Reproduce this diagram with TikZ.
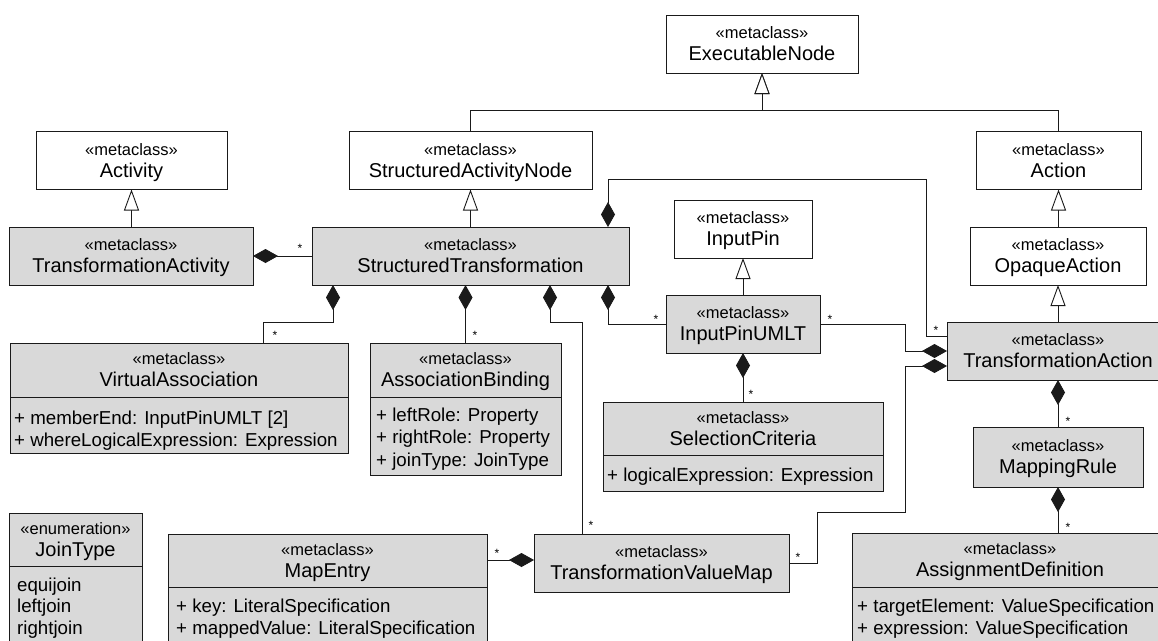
\documentclass[tikz,border=0pt]{standalone}
\usepackage{fontspec}
\setmainfont{Liberation Sans}
\usetikzlibrary{arrows.meta,calc}

\definecolor{clsgray}{HTML}{D9D9D9}
\definecolor{ink}{HTML}{1A1A1A}

\tikzset{
  wbox/.style={draw=ink, line width=0.9pt, fill=white, inner sep=0pt, outer sep=0pt},
  gbox/.style={draw=ink, line width=0.9pt, fill=clsgray, inner sep=0pt, outer sep=0pt},
  stereo/.style={font=\fontsize{16.5}{18}\selectfont, anchor=base, inner sep=0pt},
  cname/.style={font=\fontsize{20}{22}\selectfont, anchor=base, inner sep=0pt},
  attr/.style={font=\fontsize{18.7}{21}\selectfont, anchor=base west, inner sep=0pt},
  mult/.style={font=\fontsize{12}{12}\selectfont, inner sep=0pt},
  sep/.style={draw=ink, line width=0.9pt},
  gen/.style={draw=ink, line width=0.9pt, -{Triangle[length=21pt, width=15pt, fill=white]}},
  comp/.style={draw=ink, line width=0.9pt, -{Diamond[length=25pt, width=14pt]}},
}

\begin{document}
\begin{tikzpicture}[x=1pt, y=-1pt]
\useasboundingbox (0,0) rectangle (1158,640);
\clip (0,0) rectangle (1158,640);

% ---------- plain UML metaclasses ----------
\node[wbox, minimum width=192pt, minimum height=58pt] (exec) at (762,44) {};
\node[stereo] (exec-s) at (762,38.5) {«metaclass»};
\node[cname] (exec-n) at (762,60.5) {ExecutableNode};

\node[wbox, minimum width=191pt, minimum height=58pt] (act) at (131.5,160.5) {};
\node[stereo] (act-s) at (131.5,155) {«metaclass»};
\node[cname] (act-n) at (131.5,177) {Activity};

\node[wbox, minimum width=243pt, minimum height=58pt] (san) at (470.5,160.5) {};
\node[stereo] (san-s) at (470.5,155) {«metaclass»};
\node[cname] (san-n) at (470.5,177) {StructuredActivityNode};

\node[wbox, minimum width=165pt, minimum height=58pt] (action) at (1058.5,160.5) {};
\node[stereo] (action-s) at (1058.5,155) {«metaclass»};
\node[cname] (action-n) at (1058.5,177) {Action};

\node[wbox, minimum width=176pt, minimum height=58pt] (opaque) at (1058,256) {};
\node[stereo] (opaque-s) at (1058,250.5) {«metaclass»};
\node[cname] (opaque-n) at (1058,272.5) {OpaqueAction};

\node[wbox, minimum width=138pt, minimum height=58pt] (inpin) at (743,229) {};
\node[stereo] (inpin-s) at (743,223.5) {«metaclass»};
\node[cname] (inpin-n) at (743,245.5) {InputPin};

% ---------- profile metaclasses ----------
\node[gbox, minimum width=244pt, minimum height=58pt] (tact) at (131,256) {};
\node[stereo] (tact-s) at (131,250.5) {«metaclass»};
\node[cname] (tact-n) at (131,272.5) {TransformationActivity};

\node[gbox, minimum width=317pt, minimum height=58pt] (st) at (470.5,256) {};
\node[stereo] (st-s) at (470.5,250.5) {«metaclass»};
\node[cname] (st-n) at (470.5,272.5) {StructuredTransformation};

\node[gbox, minimum width=154pt, minimum height=58pt] (ipu) at (743,324) {};
\node[stereo] (ipu-s) at (743,318.5) {«metaclass»};
\node[cname] (ipu-n) at (743,340.5) {InputPinUMLT};

\node[gbox, minimum width=222pt, minimum height=58pt] (tra) at (1058,351) {};
\node[stereo] (tra-s) at (1058,345.5) {«metaclass»};
\node[cname] (tra-n) at (1058,367.5) {TransformationAction};

\node[gbox, minimum width=338pt, minimum height=110pt] (va) at (179,398) {};
\draw[sep] (10,397) -- (348,397);
\node[stereo] (va-s) at (179,364.5) {«metaclass»};
\node[cname] (va-n) at (179,386.5) {VirtualAssociation};
\node[attr] (va-a1) at (14,424) {+ memberEnd: InputPinUMLT [2]};
\node[attr] (va-a2) at (14,446) {+ whereLogicalExpression: Expression};

\node[gbox, minimum width=191pt, minimum height=132pt] (ab) at (465.5,409) {};
\draw[sep] (370,397) -- (561,397);
\node[stereo] (ab-s) at (465.5,364.5) {«metaclass»};
\node[cname] (ab-n) at (465.5,386.5) {AssociationBinding};
\node[attr] (ab-a1) at (376,421) {+ leftRole: Property};
\node[attr] (ab-a2) at (376,443.5) {+ rightRole: Property};
\node[attr] (ab-a3) at (376,466) {+ joinType: JoinType};

\node[gbox, minimum width=280pt, minimum height=89pt] (sc) at (743,446.5) {};
\draw[sep] (603,455) -- (883,455);
\node[stereo] (sc-s) at (743,423) {«metaclass»};
\node[cname] (sc-n) at (743,445) {SelectionCriteria};
\node[attr] (sc-a1) at (607,481) {+ logicalExpression: Expression};

\node[gbox, minimum width=170pt, minimum height=60pt] (mr) at (1058,457) {};
\node[stereo] (mr-s) at (1058,451.5) {«metaclass»};
\node[cname] (mr-n) at (1058,473.5) {MappingRule};

\node[gbox, minimum width=133pt, minimum height=147pt] (jt) at (75.5,586.5) {};
\draw[sep] (9,566) -- (142,566);
\node[stereo] (jt-s) at (75.5,534) {«enumeration»};
\node[cname] (jt-n) at (75.5,556) {JoinType};
\node[attr] (jt-a1) at (17,591) {equijoin};
\node[attr] (jt-a2) at (17,612.5) {leftjoin};
\node[attr] (jt-a3) at (17,634) {rightjoin};

\node[gbox, minimum width=319pt, minimum height=126pt] (me) at (327.5,597) {};
\draw[sep] (168,587) -- (487,587);
\node[stereo] (me-s) at (327.5,555) {«metaclass»};
\node[cname] (me-n) at (327.5,577) {MapEntry};
\node[attr] (me-a1) at (176,612.5) {+ key: LiteralSpecification};
\node[attr] (me-a2) at (176,634.5) {+ mappedValue: LiteralSpecification};

\node[gbox, minimum width=255pt, minimum height=58pt] (tvm) at (661.5,563) {};
\node[stereo] (tvm-s) at (661.5,557.5) {«metaclass»};
\node[cname] (tvm-n) at (661.5,579.5) {TransformationValueMap};

\node[gbox, minimum width=316pt, minimum height=126.5pt] (ad) at (1010,596.75) {};
\draw[sep] (852,587) -- (1168,587);
\node[stereo] (ad-s) at (1010,554.5) {«metaclass»};
\node[cname] (ad-n) at (1010,576.5) {AssignmentDefinition};
\node[attr] (ad-a1) at (857,612.5) {+ targetElement: ValueSpecification};
\node[attr] (ad-a2) at (857,634.5) {+ expression: ValueSpecification};

% ---------- generalizations ----------
\draw[gen] (san.north) |- ($(exec.south)+(0,37)$) -- (exec.south);
\draw[gen] (action.north) |- ($(exec.south)+(0,37)$) -- (exec.south);
\draw[gen] (act.south |- tact.north) -- (act.south);
\draw[gen] (san.south |- st.north) -- (san.south);
\draw[gen] (ipu.north) -- (inpin.south);
\draw[gen] (action.south |- opaque.north) -- (action.south);
\draw[gen] (opaque.south |- tra.north) -- (opaque.south);

% ---------- compositions ----------
\draw[comp] (st.west) -- (tact.east);
\draw[comp] ($(va.north west)+(253,0)$) |- ($(st.south west)+(21,37)$) -- ($(st.south west)+(21,0)$);
\draw[comp] (ab.north) -- (ab.north |- st.south);
\draw[comp] ($(tvm.north west)+(48,0)$) |- ($(st.south west)+(238,37)$) -- ($(st.south west)+(238,0)$);
\draw[comp] (ipu.west) -| ($(st.south west)+(296,0)$);
\draw[comp] ($(tra.west)+(0,-15)$) -| (926,179) -| ($(st.north west)+(296,0)$);
\draw[comp] (ipu.east) -| (905,351) -- (tra.west);
\draw[comp] (tvm.east) -| (817,512) -| (905,366) -- ($(tra.west)+(0,15)$);
\draw[comp] (sc.north) -- (ipu.south);
\draw[comp] (mr.north) -- (mr.north |- tra.south);
\draw[comp] (mr.south |- ad.north) -- (mr.south);
\draw[comp] ($(me.east |- tvm.west)+(0,-3)$) -- ($(tvm.west)+(0,-3)$);

% ---------- multiplicities ----------
\node[mult] (m1) at (300,248.5) {*};
\node[mult] (m2) at (275,335.5) {*};
\node[mult] (m3) at (475,335.5) {*};
\node[mult] (m4) at (591,525.5) {*};
\node[mult] (m5) at (656,319.5) {*};
\node[mult] (m6) at (936,330.5) {*};
\node[mult] (m7) at (830,319.5) {*};
\node[mult] (m8) at (798,557.5) {*};
\node[mult] (m9) at (751,394.5) {*};
\node[mult] (m10) at (1068,421.5) {*};
\node[mult] (m11) at (1068,527.5) {*};
\node[mult] (m12) at (497,553.5) {*};
\end{tikzpicture}
\end{document}
